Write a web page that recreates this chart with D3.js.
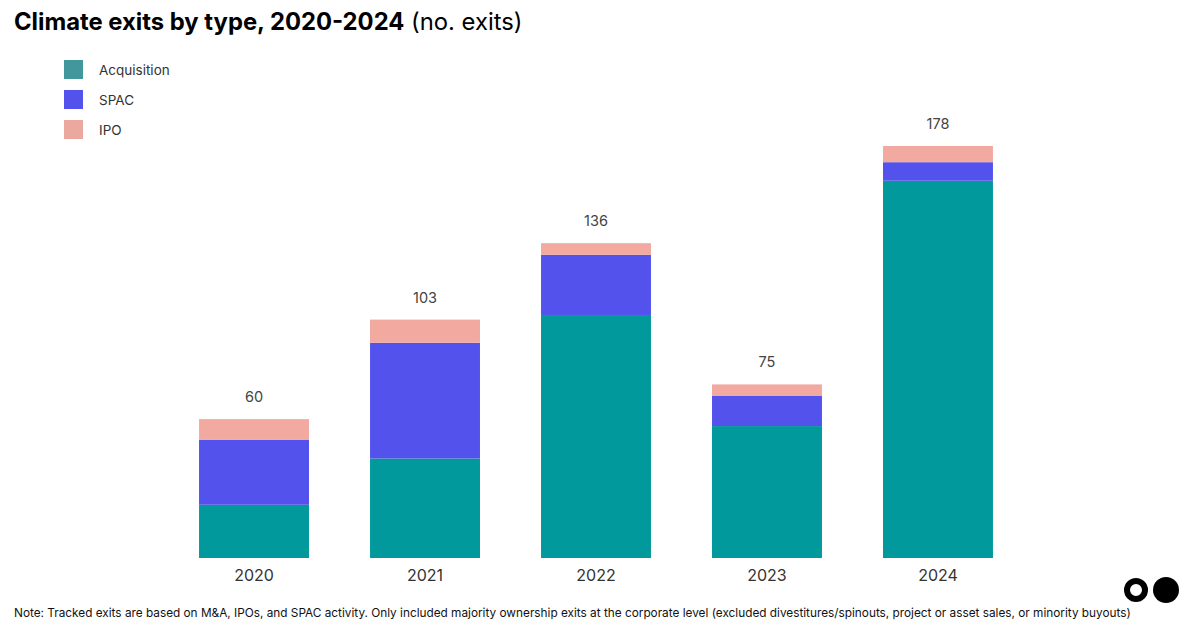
<!DOCTYPE html>
<html>
<head>
<meta charset="utf-8">
<script src="https://cdn.jsdelivr.net/npm/d3@7.9.0/dist/d3.min.js"></script>
<style>
  body { margin: 0; background: #fff; }
  svg { display: block; font-family: Inter, "Noto Sans", sans-serif; }
</style>
</head>
<body>
<svg id="chart" width="1200" height="630"></svg>
<script>
const years = ['2020', '2021', '2022', '2023', '2024'];
const acquisition = [23, 43, 105, 57, 163];
const spac = [28, 50, 26, 13, 8];
const ipo = [9, 10, 5, 5, 7];
const totals = [60, 103, 136, 75, 178];

const seriesKeys = ['Acquisition', 'SPAC', 'IPO'];
const colors = { Acquisition: '#02999c', SPAC: '#5352ed', IPO: '#f2a99f' };
const swatchColors = { Acquisition: '#41979b', SPAC: '#5352ed', IPO: '#eaa89f' };

const rows = years.map((y, i) => ({
  year: y, Acquisition: acquisition[i], SPAC: spac[i], IPO: ipo[i], total: totals[i]
}));

const svg = d3.select('#chart');

// title
const title = svg.append('text').attr('x', 14).attr('y', 30)
  .attr('font-size', 23.8).attr('fill', '#000');
title.append('tspan').attr('font-weight', 700).text('Climate exits by type, 2020-2024');
title.append('tspan').attr('font-weight', 400).text(' (no. exits)');

const x = d3.scaleBand().domain(years).range([138, 1054])
  .paddingInner(0.357).paddingOuter(0.357);
const y = d3.scaleLinear().domain([0, 178]).range([558, 146]);

const stack = d3.stack().keys(seriesKeys)(rows);

svg.append('g').selectAll('g').data(stack).join('g')
  .attr('fill', d => colors[d.key])
  .selectAll('rect').data(d => d).join('rect')
  .attr('x', d => x(d.data.year))
  .attr('width', x.bandwidth())
  .attr('y', d => y(d[1]))
  .attr('height', d => y(d[0]) - y(d[1]));

// total labels
svg.append('g').selectAll('text').data(rows).join('text')
  .attr('x', d => x(d.year) + x.bandwidth() / 2)
  .attr('y', d => y(d.total) - 17)
  .attr('text-anchor', 'middle')
  .attr('font-size', 14.5).attr('fill', '#444')
  .text(d => d.total);

// x axis labels
const xAxis = svg.append('g').attr('transform', 'translate(0,560)')
  .call(d3.axisBottom(x).tickSize(0).tickPadding(10));
xAxis.select('.domain').remove();
xAxis.selectAll('text').attr('font-size', 16).attr('fill', '#333')
  .attr('font-family', 'Inter, "Noto Sans", sans-serif');

// legend
const legend = svg.append('g').selectAll('g').data(seriesKeys).join('g')
  .attr('transform', (d, i) => `translate(64,${60 + i * 30})`);
legend.append('rect').attr('width', 19).attr('height', 19)
  .attr('fill', d => swatchColors[d]);
legend.append('text').attr('x', 35).attr('y', 14.5)
  .attr('font-size', 13.5).attr('fill', '#333').text(d => d);

// note
svg.append('text').attr('x', 14).attr('y', 617)
  .attr('font-size', 11.8).attr('fill', '#111')
  .text('Note: Tracked exits are based on M&A, IPOs, and SPAC activity. Only included majority ownership exits at the corporate level (excluded divestitures/spinouts, project or asset sales, or minority buyouts)');

// logo
const logo = svg.append('g');
logo.append('circle').attr('cx', 1136).attr('cy', 590).attr('r', 9)
  .attr('fill', 'none').attr('stroke', '#000').attr('stroke-width', 6);
logo.append('circle').attr('cx', 1166).attr('cy', 590).attr('r', 13).attr('fill', '#000');
</script>
</body>
</html>
